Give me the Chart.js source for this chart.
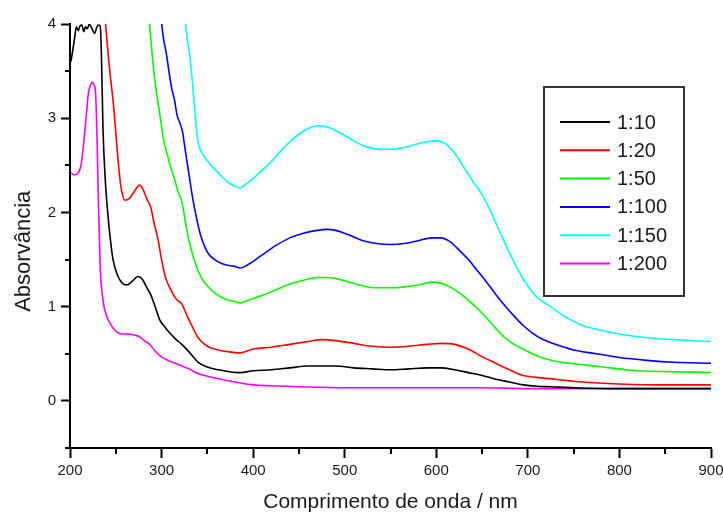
<!DOCTYPE html>
<html>
<head>
<meta charset="utf-8">
<script src="https://cdn.jsdelivr.net/npm/chart.js@4.4.1/dist/chart.umd.min.js"></script>
<style>
  html, body { margin: 0; padding: 0; background: #fff; }
  #wrap { width: 723px; height: 516px; position: relative; }
</style>
</head>
<body>
<div id="wrap"><canvas id="c" width="723" height="516"></canvas></div>
<script>
// ---- Data (wavelength in nm, absorbance) ----
const seriesLabels = ['1:10', '1:20', '1:50', '1:100', '1:150', '1:200'];
const seriesColors = ['#000000', '#ff0000', '#00ff00', '#0000ff', '#00ffff', '#ff00ff'];

const wl_1_10 = [201, 203, 205, 207, 209, 211, 213, 215, 217, 219, 221, 223, 225, 227, 229, 231, 233, 234.5, 236, 238.5, 241, 244, 247, 252, 257, 262, 268, 274, 279, 284, 288, 293, 298, 304, 310, 316, 322, 330, 340, 350, 362, 374, 386, 400, 420, 440, 460, 475, 490, 510, 530, 550, 570, 590, 605, 620, 635, 650, 665, 680, 695, 710, 725, 750, 800, 850, 900];
const abs_1_10 = [3.60, 3.72, 3.85, 3.97, 3.93, 3.98, 3.99, 3.92, 3.97, 3.95, 4.00, 3.97, 3.93, 3.90, 3.96, 3.99, 3.98, 3.60, 2.90, 2.35, 2.02, 1.72, 1.50, 1.33, 1.25, 1.23, 1.27, 1.32, 1.29, 1.20, 1.13, 1.00, 0.86, 0.78, 0.71, 0.65, 0.60, 0.52, 0.41, 0.36, 0.33, 0.31, 0.30, 0.32, 0.33, 0.35, 0.37, 0.37, 0.37, 0.35, 0.34, 0.33, 0.34, 0.35, 0.35, 0.33, 0.30, 0.27, 0.23, 0.20, 0.17, 0.155, 0.15, 0.14, 0.13, 0.13, 0.13];

const wl_1_20 = [238, 241, 244, 247, 250, 253, 256, 260, 265, 270, 276, 280, 284, 288, 292, 296, 300, 304, 310, 316, 322, 328, 334, 340, 350, 362, 374, 386, 400, 420, 440, 460, 475, 490, 510, 530, 550, 570, 590, 605, 620, 635, 650, 665, 680, 695, 710, 730, 760, 800, 850, 900];
const abs_1_20 = [4.10, 3.75, 3.45, 3.19, 2.85, 2.50, 2.25, 2.13, 2.15, 2.22, 2.29, 2.24, 2.14, 2.06, 1.88, 1.72, 1.50, 1.32, 1.18, 1.08, 1.03, 0.90, 0.78, 0.67, 0.58, 0.54, 0.52, 0.51, 0.55, 0.57, 0.60, 0.63, 0.65, 0.64, 0.61, 0.58, 0.57, 0.58, 0.60, 0.61, 0.60, 0.55, 0.47, 0.40, 0.33, 0.27, 0.25, 0.23, 0.20, 0.18, 0.17, 0.17];

const wl_1_50 = [286, 290, 294, 298, 302, 306, 310, 314, 318, 322, 326, 330, 335, 340, 346, 352, 360, 370, 378, 386, 395, 410, 425, 440, 455, 470, 480, 490, 505, 520, 535, 550, 565, 580, 595, 605, 615, 625, 635, 645, 655, 665, 675, 685, 695, 705, 715, 730, 745, 765, 790, 820, 860, 900];
const abs_1_50 = [4.10, 3.65, 3.30, 3.05, 2.78, 2.62, 2.48, 2.36, 2.22, 2.12, 1.90, 1.70, 1.52, 1.38, 1.27, 1.20, 1.13, 1.08, 1.06, 1.04, 1.07, 1.12, 1.18, 1.24, 1.28, 1.31, 1.31, 1.30, 1.26, 1.22, 1.20, 1.20, 1.21, 1.23, 1.26, 1.25, 1.21, 1.15, 1.07, 0.98, 0.88, 0.77, 0.67, 0.60, 0.55, 0.50, 0.46, 0.42, 0.40, 0.38, 0.35, 0.32, 0.31, 0.30];

const wl_1_100 = [299, 302, 305, 308, 311, 314, 317, 320, 323, 326, 330, 334, 338, 342, 347, 352, 358, 365, 372, 379, 386, 395, 410, 425, 440, 455, 470, 480, 490, 505, 520, 535, 550, 565, 580, 595, 605, 615, 625, 635, 645, 655, 665, 675, 685, 695, 705, 715, 730, 750, 775, 800, 830, 860, 900];
const abs_1_100 = [4.10, 3.85, 3.70, 3.50, 3.32, 3.20, 3.03, 2.95, 2.85, 2.65, 2.40, 2.15, 1.95, 1.78, 1.64, 1.55, 1.50, 1.46, 1.44, 1.43, 1.41, 1.45, 1.55, 1.65, 1.73, 1.78, 1.81, 1.82, 1.81, 1.76, 1.70, 1.67, 1.66, 1.67, 1.70, 1.73, 1.73, 1.69, 1.60, 1.50, 1.38, 1.26, 1.13, 1.01, 0.90, 0.80, 0.72, 0.66, 0.60, 0.54, 0.50, 0.46, 0.43, 0.41, 0.40];

const wl_1_150 = [325, 328, 331, 334, 337, 339, 341, 345, 350, 356, 362, 368, 374, 380, 386, 392, 400, 410, 420, 430, 440, 450, 460, 470, 480, 490, 500, 510, 520, 530, 540, 550, 560, 570, 580, 590, 600, 610, 620, 630, 640, 650, 660, 670, 680, 690, 700, 710, 725, 740, 760, 780, 800, 830, 860, 900];
const abs_1_150 = [4.10, 3.85, 3.65, 3.35, 3.00, 2.80, 2.70, 2.62, 2.55, 2.48, 2.42, 2.36, 2.31, 2.28, 2.26, 2.30, 2.36, 2.45, 2.54, 2.65, 2.75, 2.83, 2.89, 2.92, 2.91, 2.87, 2.82, 2.76, 2.71, 2.68, 2.67, 2.67, 2.68, 2.70, 2.73, 2.75, 2.76, 2.73, 2.63, 2.48, 2.33, 2.19, 2.00, 1.78, 1.57, 1.38, 1.22, 1.10, 1.00, 0.90, 0.80, 0.75, 0.71, 0.67, 0.65, 0.63];

const wl_1_200 = [201, 205, 209, 212, 214, 216, 218, 220, 222, 224, 226, 228, 229.5, 231, 233, 236, 240, 244, 248, 253, 258, 264, 270, 276, 281, 287, 293, 298, 305, 312, 320, 330, 340, 355, 370, 386, 400, 420, 450, 500, 550, 600, 650, 700, 750, 800, 850, 900];
const abs_1_200 = [2.42, 2.40, 2.42, 2.50, 2.65, 2.84, 3.05, 3.26, 3.34, 3.38, 3.36, 3.26, 2.80, 2.13, 1.42, 1.07, 0.90, 0.82, 0.76, 0.72, 0.71, 0.71, 0.70, 0.68, 0.64, 0.60, 0.53, 0.48, 0.44, 0.41, 0.38, 0.34, 0.29, 0.25, 0.22, 0.19, 0.17, 0.16, 0.15, 0.14, 0.14, 0.14, 0.14, 0.13, 0.13, 0.13, 0.13, 0.13];

const xTickValues = [200, 300, 400, 500, 600, 700, 800, 900];
const yTickValues = [0, 1, 2, 3, 4];

const wlSets = [wl_1_10, wl_1_20, wl_1_50, wl_1_100, wl_1_150, wl_1_200];
const absSets = [abs_1_10, abs_1_20, abs_1_50, abs_1_100, abs_1_150, abs_1_200];

const FONT = "'Liberation Sans', Arial, Helvetica, sans-serif";
const TEXT = '#1a1a1a';

const datasets = seriesLabels.map((lab, i) => ({
  label: lab,
  data: wlSets[i].map((x, j) => ({ x: x, y: absSets[i][j] })),
  borderColor: seriesColors[i],
  backgroundColor: seriesColors[i],
  borderWidth: 1.6,
  pointRadius: 0,
  fill: false,
  cubicInterpolationMode: 'monotone'
}));

// minor ticks + custom legend
const extras = {
  id: 'extras',
  afterDraw(chart) {
    const ctx = chart.ctx;
    const xs = chart.scales.x, ys = chart.scales.y;
    const ca = chart.chartArea;
    ctx.save();
    ctx.strokeStyle = '#000';
    ctx.lineWidth = 2;
    xs.ticks.forEach(t => {
      if (!xTickValues.includes(t.value)) {
        const px = Math.round(xs.getPixelForValue(t.value));
        ctx.beginPath(); ctx.moveTo(px, ca.bottom); ctx.lineTo(px, ca.bottom + 6); ctx.stroke();
      }
    });
    ys.ticks.forEach(t => {
      if (!yTickValues.includes(t.value)) {
        const py = Math.round(ys.getPixelForValue(t.value));
        ctx.beginPath(); ctx.moveTo(ca.left, py); ctx.lineTo(ca.left - 5, py); ctx.stroke();
      }
    });
    // legend box
    const bx = 544, by = 87, bw = 140, bh = 209;
    ctx.strokeStyle = '#333';
    ctx.lineWidth = 2;
    ctx.strokeRect(bx, by, bw, bh);
    ctx.font = '20px ' + FONT;
    ctx.textBaseline = 'middle';
    ctx.textAlign = 'left';
    chart.data.datasets.forEach((ds, i) => {
      const y = 122 + i * 28.3;
      ctx.strokeStyle = ds.borderColor;
      ctx.lineWidth = 2;
      ctx.beginPath(); ctx.moveTo(560, y); ctx.lineTo(610, y); ctx.stroke();
      ctx.fillStyle = TEXT;
      ctx.fillText(ds.label, 617, y + 1);
    });
    ctx.restore();
  }
};

new Chart(document.getElementById('c'), {
  type: 'line',
  data: { datasets },
  options: {
    responsive: false,
    animation: false,
    layout: { padding: { left: 0, right: 12, top: 24, bottom: 0 } },
    plugins: { legend: { display: false }, tooltip: { enabled: false } },
    scales: {
      x: {
        type: 'linear',
        min: 200, max: 900,
        afterFit(s) { s.height = 68; s.paddingLeft = 0; s.paddingRight = 0; },
        border: { display: true, color: '#000', width: 2 },
        grid: {
          drawOnChartArea: false, drawTicks: true, tickLength: 10, tickWidth: 2,
          tickColor: c => (c.tick && xTickValues.includes(c.tick.value)) ? '#000' : 'rgba(0,0,0,0)'
        },
        ticks: {
          stepSize: 50, autoSkip: false, maxRotation: 0, padding: 4,
          color: TEXT, font: { family: FONT, size: 15 },
          callback: v => xTickValues.includes(v) ? String(v) : ''
        },
        title: {
          display: true, text: 'Comprimento de onda / nm', color: TEXT,
          font: { family: FONT, size: 21 }, padding: { top: 0, bottom: 1 }
        }
      },
      y: {
        type: 'linear',
        min: -0.5, max: 4,
        afterFit(s) { s.width = 70; s.paddingTop = 0; s.paddingBottom = 0; },
        border: { display: true, color: '#000', width: 2 },
        grid: {
          drawOnChartArea: false, drawTicks: true, tickLength: 9, tickWidth: 2,
          tickColor: c => (c.tick && yTickValues.includes(c.tick.value)) ? '#000' : 'rgba(0,0,0,0)'
        },
        ticks: {
          stepSize: 0.5, autoSkip: false, padding: 5,
          color: TEXT, font: { family: FONT, size: 15 },
          callback: v => yTickValues.includes(v) ? String(v) : ''
        },
        title: {
          display: true, text: 'Absorvância     ', color: TEXT,
          font: { family: FONT, size: 22 }, padding: { top: 11, bottom: 0 }
        }
      }
    }
  },
  plugins: [extras]
});
</script>
</body>
</html>
